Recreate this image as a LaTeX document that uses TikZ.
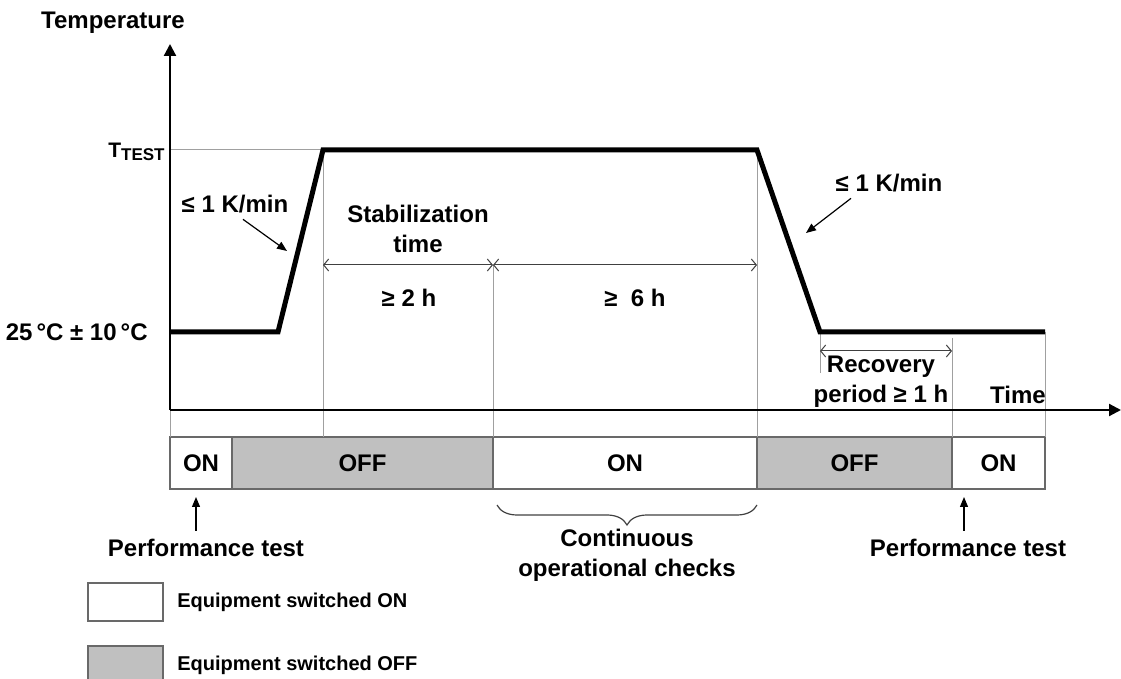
\documentclass[tikz,border=0pt]{standalone}
\usepackage{fontspec}
\setmainfont{Liberation Sans}
\usetikzlibrary{positioning,arrows.meta,decorations.pathreplacing}
\definecolor{offgray}{RGB}{192,192,192}
\definecolor{guide}{RGB}{160,160,160}
\definecolor{boxline}{RGB}{105,105,105}

\begin{document}
\begin{tikzpicture}[x=0.5pt,y=-0.5pt,
  every node/.style={font=\fontsize{12}{14}\selectfont\bfseries, inner sep=0pt},
  guide/.style={draw=guide, line width=0.5pt},
  axis/.style={-{Triangle[length=6pt,width=6pt]}, line width=1.1pt},
  profile/.style={line width=2.5pt, line join=miter},
  bar/.style={draw=boxline, line width=0.8pt, minimum height=26pt, outer sep=0pt},
  onbar/.style={bar, fill=white},
  offbar/.style={bar, fill=offgray},
  span/.style={{Straight Barb[length=2.5pt,width=6pt]}-{Straight Barb[length=2.5pt,width=6pt]}, draw=black!75, line width=0.5pt},
  pointer/.style={-{Triangle[length=5pt,width=4pt]}, line width=0.6pt},
  legend/.style={font=\fontsize{10}{12}\selectfont\bfseries}]
\useasboundingbox (0,0) rectangle (1121,679);

% profile points
\coordinate (o) at (170,410);
\coordinate (p0) at (170,332);
\coordinate (p1) at (278,332);
\coordinate (p2) at (323,150);
\coordinate (p3) at (757,150);
\coordinate (p4) at (820,332);
\coordinate (p5) at (1045,332);
\coordinate (s2) at (493,265);
\coordinate (r0) at (820,373);
\coordinate (rc) at (952,338);
\coordinate (r1) at (952,351);

% ON/OFF bar
\node[onbar, minimum width=31pt, anchor=north west] (on1) at (170,437) {ON};
\node[offbar, minimum width=130.5pt, right=0pt of on1] (off1) {OFF};
\node[onbar, minimum width=132pt, right=0pt of off1] (on2) {ON};
\node[offbar, minimum width=97.5pt, right=0pt of on2] (off2) {OFF};
\node[onbar, minimum width=46.5pt, right=0pt of off2] (on3) {ON};

% guide lines
\draw[guide] (o |- p2) -- (p2);
\draw[guide] (o) -- (on1.north west);
\draw[guide] (p2) -- (p2 |- off1.north);
\draw[guide] (s2) -- (on2.north west);
\draw[guide] (p3) -- (off2.north west);
\draw[guide] (p4) -- (r0);
\draw[guide] (rc) -- (on3.north west);
\draw[guide] (p5) -- (on3.north east);

% axes
\coordinate (ytop) at (170,44);
\coordinate (xend) at (1121,410);
\draw[axis] (o) -- (ytop);
\draw[axis] (o) -- (xend);
\node (temp) at (113,23) {Temperature};
\node (time) at (1018,395) {Time};
\node[anchor=east] (ttest) at (165,152) {\fontsize{10.5}{12}\selectfont T\raisebox{-1.5pt}{\fontsize{8.5}{9}\selectfont TEST}};
\node[anchor=east] (amb) at (148,332) {25\,°C ± 10\,°C};

% temperature profile
\draw[profile] (p0) -- (p1) -- (p2) -- (p3) -- (p4) -- (p5);

% ramps
\node (kup) at (235,204) {≤ 1 K/min};
\node (kdown) at (889,183) {≤ 1 K/min};
\coordinate (kua) at (287,251);
\coordinate (kda) at (806,233);
\draw[pointer] ([xshift=4pt,yshift=-3pt]kup.south) -- (kua);
\draw[pointer] ([xshift=-19pt,yshift=-3pt]kdown.south) -- (kda);

% durations
\draw[span] (p2 |- s2) -- (s2);
\draw[span] (s2) -- (p3 |- s2);
\node[align=center] (stab) at (418,229) {Stabilization\\[1pt]time};
\node (two) at (409,298) {≥ 2 h};
\node (six) at (635,298) {≥~ 6 h};
\draw[span] (p4 |- r1) -- (r1);
\node[align=center] (rec) at (881,382) {Recovery\\[1pt]period ≥ 1 h};

% checks
\draw[decorate, decoration={brace, mirror, amplitude=10pt}, draw=black!75, line width=0.6pt] (497,505) -- (757,505) coordinate[midway] (brc);
\node[align=center, below=12pt of brc] (cont) {Continuous\\[1pt]operational checks};
\node (perf1) at (206,548) {Performance test};
\node (perf2) at (968,548) {Performance test};
\coordinate (pa1) at (196,497);
\coordinate (pa2) at (964,497);
\draw[pointer] (perf1.north -| pa1) ++(0,-8) -- (pa1);
\draw[pointer] (perf2.north -| pa2) ++(0,-8) -- (pa2);

% legend
\node[onbar, minimum width=37.5pt, minimum height=19pt, anchor=north west] (legon) at (88,583) {};
\node[legend, right=7pt of legon] (legontxt) {Equipment switched ON};
\node[offbar, minimum width=37.5pt, minimum height=19pt, anchor=north west] (legoff) at (88,646) {};
\node[legend, right=7pt of legoff] (legofftxt) {Equipment switched OFF};
\end{tikzpicture}
\end{document}
